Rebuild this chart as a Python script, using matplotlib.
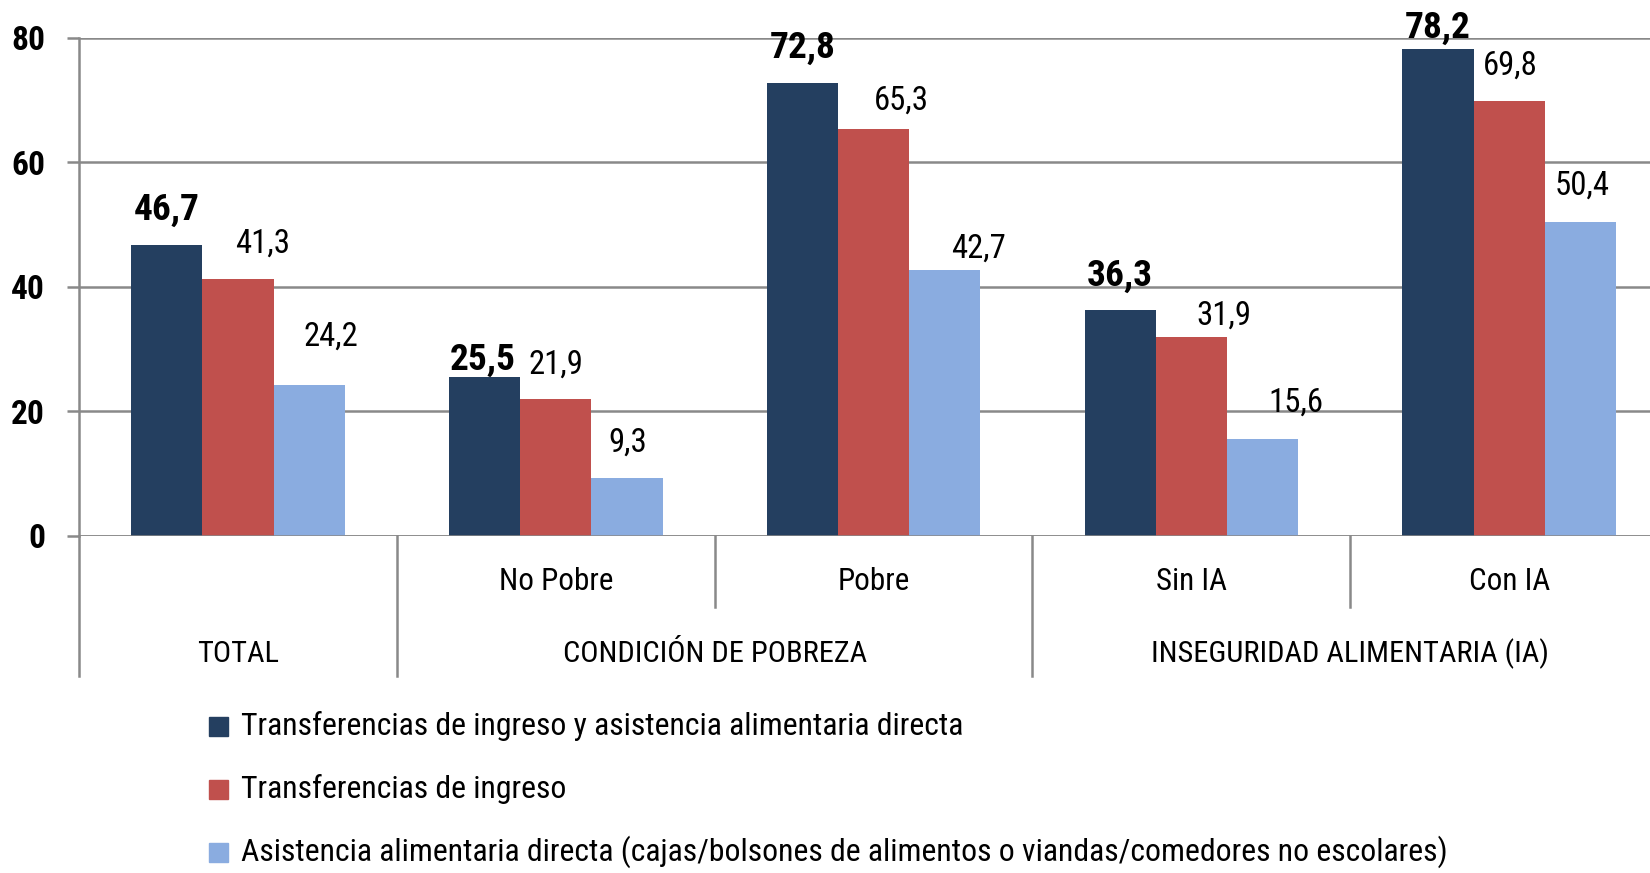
import matplotlib
matplotlib.use("Agg")
import matplotlib.pyplot as plt
from matplotlib import font_manager
from matplotlib.patches import Rectangle

# el original usa una fuente condensada: se busca la mas parecida instalada
nombres = {f.name for f in font_manager.fontManager.ttflist}
FUENTE = "DejaVu Sans"
for candidata in ["Roboto Condensed", "Liberation Sans Narrow", "Open Sans Condensed"]:
    if candidata in nombres:
        FUENTE = candidata
        break
plt.rcParams["font.family"] = [FUENTE, "DejaVu Sans"]
plt.rcParams["font.stretch"] = "condensed"

# =============================================================
# DATOS
# =============================================================
categorias = ["", "No Pobre", "Pobre", "Sin IA", "Con IA"]
grupos = ["TOTAL", "CONDICIÓN DE POBREZA", "INSEGURIDAD ALIMENTARIA (IA)"]
grupos_rango = [(0, 0), (1, 2), (3, 4)]   # indices de categorias de cada grupo

series = [
    "Transferencias de ingreso y asistencia alimentaria directa",
    "Transferencias de ingreso",
    "Asistencia alimentaria directa (cajas/bolsones de alimentos o viandas/comedores no escolares)",
]
ambas = [46.7, 25.5, 72.8, 36.3, 78.2]
ingreso = [41.3, 21.9, 65.3, 31.9, 69.8]
alimentaria = [24.2, 9.3, 42.7, 15.6, 50.4]
valores = [ambas, ingreso, alimentaria]

colores = ["#243F60", "#C0504D", "#8AACE0"]
GRIS = "#898989"

# desplazamiento del centro de cada etiqueta respecto del tope de la barra (pixeles)
dx = [[0, -2, 0, 0, 0], [25, 0, 28, 32, 1], [22, 1, 34, 33, 2]]
dy = [[35, 17, 35, 34, 21], [35, 35, 29, 21, 36], [48, 35, 21, 36, 36]]

# =============================================================
# GRAFICO
# =============================================================
fig = plt.figure(figsize=(16.5, 8.73), dpi=100)
ax = fig.add_axes([0.0479, 0.3865, 0.9521, 0.5701])

ancho = 0.224
n = len(categorias)
etiq_negrita, etiq_normal = [], []
for s in range(3):
    xs = [i + (s - 1) * ancho for i in range(n)]
    ax.bar(xs, valores[s], width=ancho, color=colores[s], zorder=3)
    for i in range(n):
        t = ax.annotate(f"{valores[s][i]:.1f}".replace(".", ","),
                        (xs[i], valores[s][i]), xytext=(dx[s][i], dy[s][i]),
                        textcoords="offset pixels", ha="center", va="center",
                        fontsize=22, fontweight="bold" if s == 0 else "normal")
        (etiq_negrita if s == 0 else etiq_normal).append(t)

ax.set_xlim(-0.5, 4.443)
ax.set_ylim(0, 80)
ax.set_yticks([0, 20, 40, 60, 80])
ax.yaxis.grid(True, color=GRIS, linewidth=1.8, zorder=0)
ax.tick_params(axis="y", length=8.5, width=1.8, color=GRIS, pad=16, labelsize=22)
for t in ax.get_yticklabels():
    t.set_fontweight("bold")
ax.tick_params(axis="x", bottom=False, labelbottom=False)
for lado in ["top", "right", "bottom"]:
    ax.spines[lado].set_visible(False)
ax.spines["left"].set_color(GRIS)
ax.spines["left"].set_linewidth(1.8)
ax.axhline(0, color=GRIS, linewidth=1.8, zorder=4)

# eje de categorias en dos niveles
tr = ax.get_xaxis_transform()
ax.plot([-0.5, -0.5], [0, -0.283], transform=tr, color=GRIS, lw=1.8, clip_on=False)
textos_cat, textos_grupo = [], []
for i in range(n):
    if categorias[i]:
        textos_cat.append(ax.text(i, -0.093, categorias[i], transform=tr,
                                  ha="center", va="center", fontsize=22))
for g, (a, b) in enumerate(grupos_rango):
    textos_grupo.append(ax.text((a + b) / 2, -0.237, grupos[g], transform=tr,
                                ha="center", va="center", fontsize=22))
    ax.plot([b + 0.5, b + 0.5], [0, -0.283], transform=tr, color=GRIS, lw=1.8, clip_on=False)
    for k in range(a, b):
        ax.plot([k + 0.5, k + 0.5], [0, -0.144], transform=tr, color=GRIS, lw=1.8, clip_on=False)

# leyenda (cuadrados + texto, una fila por serie)
W, H = 1650, 873
filas_y = [726, 789, 852]
textos_ley = []
for s in range(3):
    fig.add_artist(Rectangle((209 / W, 1 - (filas_y[s] + 9.5) / H), 19 / W, 19 / H,
                             transform=fig.transFigure, color=colores[s]))
    textos_ley.append(fig.text(241 / W, 1 - filas_y[s] / H, series[s],
                               ha="left", va="center", fontsize=22))


# ajustar los tamanios de letra al ancho que ocupan en el original
def ajustar(textos, ancho_px):
    r = fig.canvas.get_renderer()
    w = max(t.get_window_extent(r).width for t in textos)
    for t in textos:
        t.set_fontsize(t.get_fontsize() * ancho_px / w)


fig.canvas.draw()
ajustar(textos_ley, 1209)
ajustar(textos_grupo, 397)
ajustar(textos_cat, 114)
ajustar(etiq_negrita, 66)
ajustar(etiq_normal, 55)
ajustar(ax.get_yticklabels(), 34)
tam = ax.get_yticklabels()[0].get_fontsize()
ax.tick_params(axis="y", labelsize=tam)

fig.savefig("out.png", dpi=100)
